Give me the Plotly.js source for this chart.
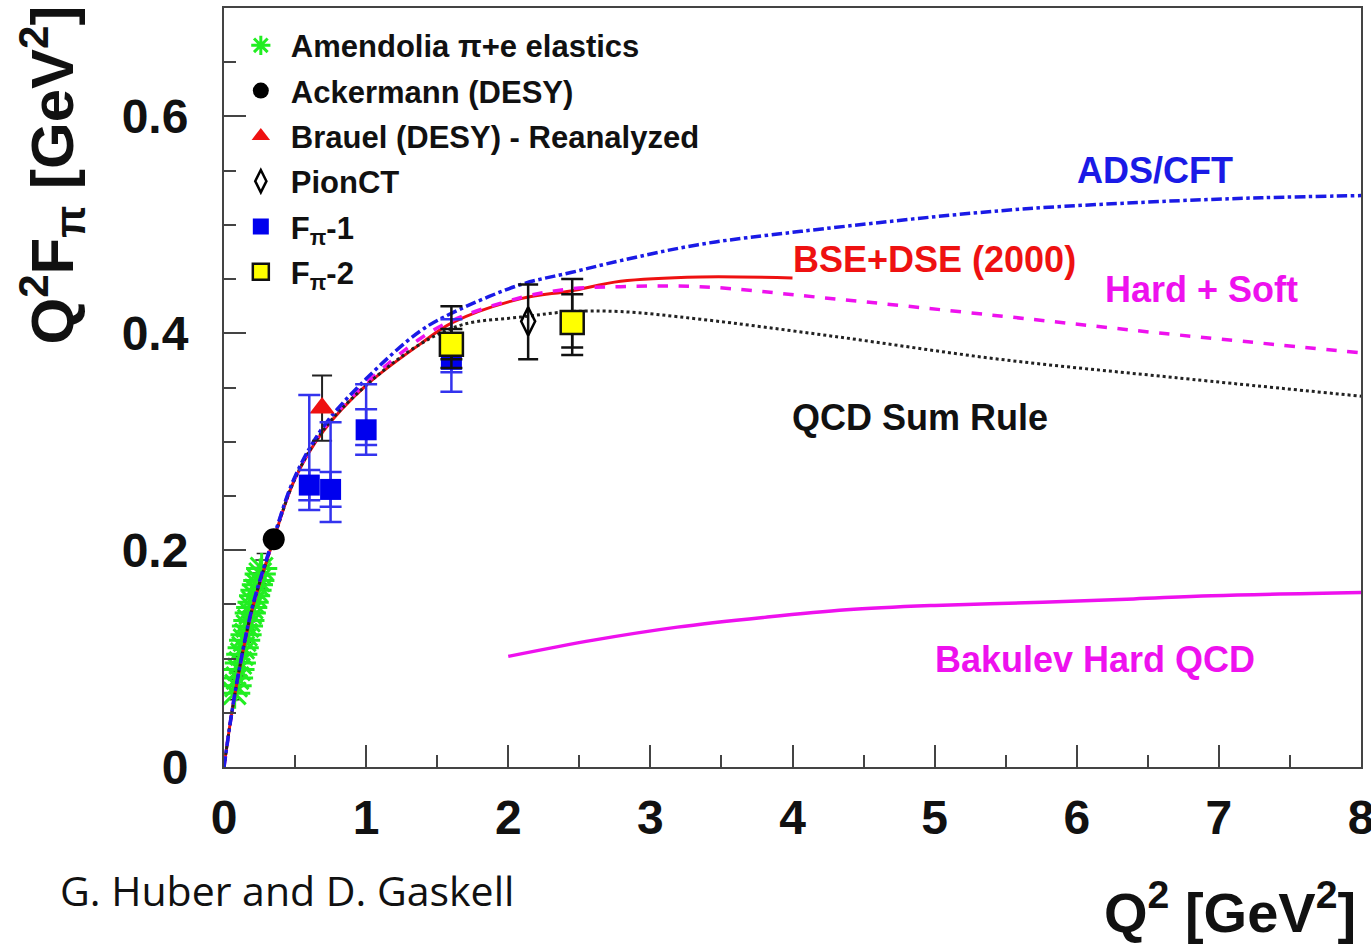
<!DOCTYPE html>
<html><head><meta charset="utf-8">
<script src="https://cdn.plot.ly/plotly-3.0.1.min.js"></script>
<style>html,body{margin:0;padding:0;background:#fff}</style>
</head><body><div id="chart" style="width:1371px;height:948px"></div>
<script>
// ---------- data ----------
var amendoliaQ2  = [0.075,0.085,0.095,0.105,0.115,0.125,0.135,0.145,0.155,0.165,0.175,0.185,0.195,0.205,0.215,0.225,0.235,0.245,0.255,0.265];
var amendoliaVal = [0.068,0.075,0.082,0.090,0.096,0.104,0.110,0.117,0.122,0.130,0.135,0.142,0.147,0.152,0.158,0.163,0.168,0.172,0.178,0.183];
var amendoliaErr = [0.006,0.006,0.006,0.006,0.006,0.007,0.007,0.007,0.007,0.008,0.008,0.008,0.009,0.009,0.010,0.010,0.011,0.012,0.013,0.014];

var ackermannQ2 = [0.35];
var ackermannVal = [0.210];

var brauelQ2 = [0.69];
var brauelVal = [0.331];
var brauelErr = [0.030];

var pionctQ2 = [2.14];
var pionctVal = [0.411];
var pionctErrPlus = [0.034];
var pionctErrMinus = [0.035];

var fpi1Q2 = [0.60, 0.75, 1.00, 1.60];
var fpi1Val = [0.260, 0.256, 0.311, 0.376];
var fpi1ErrPlus = [0.083, 0.062, 0.042, 0.037];
var fpi1ErrMinus = [0.023, 0.030, 0.023, 0.030];
var fpi1StatPlus = [0.014, 0.016, 0.019, 0.012];
var fpi1StatMinus = [0.014, 0.016, 0.014, 0.012];

var fpi2Q2 = [1.60, 2.45];
var fpi2Val = [0.390, 0.410];
var fpi2ErrPlus = [0.035, 0.040];
var fpi2ErrMinus = [0.022, 0.030];
var fpi2StatPlus = [0.014, 0.026];
var fpi2StatMinus = [0.014, 0.023];

// model curves
var adsQ2  = [0, 0.05, 0.1, 0.2, 0.35, 0.5, 0.7, 1.0, 1.38, 1.61, 2.09, 2.44, 2.79, 3.35, 4.06, 5.46, 6.5, 7.3, 8.0];
var adsVal = [0, 0.046, 0.085, 0.148, 0.212, 0.268, 0.314, 0.358, 0.402, 0.419, 0.445, 0.456, 0.467, 0.482, 0.494, 0.513, 0.521, 0.525, 0.527];

var bseQ2  = [0, 0.05, 0.1, 0.2, 0.35, 0.5, 0.7, 1.0, 1.38, 1.61, 2.09, 2.44, 2.79, 3.35, 4.0];
var bseVal = [0, 0.046, 0.084, 0.146, 0.210, 0.266, 0.310, 0.352, 0.390, 0.410, 0.432, 0.439, 0.448, 0.452, 0.451];

var hsQ2  = [0, 0.05, 0.1, 0.2, 0.35, 0.5, 0.7, 1.0, 1.38, 1.61, 2.09, 2.44, 2.79, 3.35, 4.2, 5.46, 6.6, 8.0];
var hsVal = [0, 0.046, 0.085, 0.147, 0.211, 0.267, 0.312, 0.354, 0.395, 0.412, 0.433, 0.441, 0.443, 0.443, 0.433, 0.416, 0.400, 0.382];

var qcdQ2  = [0, 0.05, 0.1, 0.2, 0.35, 0.5, 0.7, 1.0, 1.38, 1.68, 2.09, 2.44, 2.79, 3.35, 4.3, 5.46, 6.7, 8.0];
var qcdVal = [0, 0.046, 0.085, 0.147, 0.210, 0.266, 0.311, 0.352, 0.390, 0.408, 0.415, 0.420, 0.420, 0.413, 0.397, 0.376, 0.359, 0.342];

var bakQ2  = [2.0, 2.6, 3.19, 3.8, 4.38, 5.0, 5.76, 6.4, 6.95, 8.0];
var bakVal = [0.102, 0.117, 0.129, 0.138, 0.145, 0.149, 0.152, 0.155, 0.158, 0.161];

var legendNames = ['Amendolia \u03c0+e elastics', 'Ackermann (DESY)', 'Brauel (DESY) - Reanalyzed', 'PionCT', 'F<sub>\u03c0</sub>-1', 'F<sub>\u03c0</sub>-2'];
var curveLabels = ['ADS/CFT', 'BSE+DSE (2000)', 'Hard + Soft', 'QCD Sum Rule', 'Bakulev Hard QCD'];
var yTicks = [0, 0.2, 0.4, 0.6];
var yTickText = ['0', '0.2', '0.4', '0.6'];
var xTicks = [0, 1, 2, 3, 4, 5, 6, 7, 8];
var xTickText = ['0', '1', '2', '3', '4', '5', '6', '7', '8'];

// ---------- styling ----------
var FONT = 'Liberation Sans, Arial, Helvetica, sans-serif';
var BLUE = '#1a1ae6', RED = '#ee1111', MAG = '#ee11ee', GREEN = '#22ee22';

var traces = [];
traces.push({x: amendoliaQ2, y: amendoliaVal, type: 'scatter', mode: 'markers', name: legendNames[0],
  legendgroup: 'a', legendrank: 1,
  marker: {symbol: 'asterisk-open', size: 26, color: GREEN, line: {color: GREEN, width: 3}},
  error_y: {type: 'data', array: amendoliaErr, color: '#222', thickness: 1.5, width: 5}});
traces.push({x: bseQ2, y: bseVal, mode: 'lines', showlegend: false, line: {color: RED, width: 3, shape: 'spline', smoothing: 1}});
traces.push({x: hsQ2, y: hsVal, mode: 'lines', showlegend: false, line: {color: MAG, width: 3.5, dash: 'dash', shape: 'spline', smoothing: 1}});
traces.push({x: qcdQ2, y: qcdVal, mode: 'lines', showlegend: false, line: {color: '#222', width: 3, dash: 'dot', shape: 'spline', smoothing: 1}});
traces.push({x: adsQ2, y: adsVal, mode: 'lines', showlegend: false, line: {color: BLUE, width: 3.5, dash: 'dashdot', shape: 'spline', smoothing: 1}});
traces.push({x: bakQ2, y: bakVal, mode: 'lines', showlegend: false, line: {color: MAG, width: 3.5, shape: 'spline', smoothing: 1}});

traces.push({x: ackermannQ2, y: ackermannVal, mode: 'markers', name: legendNames[1], legendgroup: 'b', legendrank: 2,
  marker: {symbol: 'circle', size: 22, color: '#000'}});
traces.push({x: brauelQ2, y: brauelVal, mode: 'markers', name: legendNames[2], legendgroup: 'c', legendrank: 3,
  marker: {symbol: 'triangle-up', size: 22, color: RED},
  error_y: {type: 'data', array: brauelErr, color: '#222', thickness: 2, width: 10}});
// Fpi-1 stat (inner) bars
traces.push({x: fpi1Q2, y: fpi1Val, mode: 'markers', showlegend: false, hoverinfo: 'skip',
  marker: {size: 1, color: 'rgba(0,0,0,0)'},
  error_y: {type: 'data', symmetric: false, array: fpi1StatPlus, arrayminus: fpi1StatMinus, color: '#3333ee', thickness: 2.5, width: 11}});
traces.push({x: fpi1Q2, y: fpi1Val, mode: 'markers', name: legendNames[4], legendgroup: 'e', legendrank: 5,
  marker: {symbol: 'square', size: 21, color: '#0000ee'},
  error_y: {type: 'data', symmetric: false, array: fpi1ErrPlus, arrayminus: fpi1ErrMinus, color: '#3333ee', thickness: 2.5, width: 11}});
traces.push({x: pionctQ2, y: pionctVal, mode: 'markers', name: legendNames[3], legendgroup: 'd', legendrank: 4,
  marker: {symbol: 'diamond-tall-open', size: 20, color: '#000', line: {color: '#000', width: 2.5}},
  error_y: {type: 'data', symmetric: false, array: pionctErrPlus, arrayminus: pionctErrMinus, color: '#111', thickness: 2.5, width: 10}});
traces.push({x: fpi2Q2, y: fpi2Val, mode: 'markers', showlegend: false, hoverinfo: 'skip',
  marker: {size: 1, color: 'rgba(0,0,0,0)'},
  error_y: {type: 'data', symmetric: false, array: fpi2StatPlus, arrayminus: fpi2StatMinus, color: '#111', thickness: 2.5, width: 11}});
traces.push({x: fpi2Q2, y: fpi2Val, mode: 'markers', name: legendNames[5], legendgroup: 'f', legendrank: 6,
  marker: {symbol: 'square', size: 23, color: '#ffff00', line: {color: '#111', width: 2.5}},
  error_y: {type: 'data', symmetric: false, array: fpi2ErrPlus, arrayminus: fpi2ErrMinus, color: '#111', thickness: 2.5, width: 11}});

function lab(text, x, y, color) {
  return {text: text, x: x, y: y, xref: 'x', yref: 'y', showarrow: false, xanchor: 'center', yanchor: 'middle',
    font: {family: FONT, size: 36, color: color, weight: 700}};
}
// plot area in pixels: left 224, right 1361, top 8, bottom 767
function px(xp) { return (xp - 224) / 1137; }
function py(yp) { return (767 - yp) / 759; }

var annotations = [
  lab(curveLabels[0], 6.55, 0.55, BLUE),
  lab(curveLabels[1], 5.0, 0.468, RED),
  lab(curveLabels[2], 6.88, 0.44, MAG),
  lab(curveLabels[3], 4.9, 0.322, '#111'),
  lab(curveLabels[4], 6.13, 0.099, MAG),
  {text: 'Q<sup>2</sup>F<sub>\u03c0</sub> [GeV<sup>2</sup>]', xref: 'paper', yref: 'paper', x: px(52), y: py(4),
   xanchor: 'center', yanchor: 'top', textangle: -90, showarrow: false,
   font: {family: FONT, size: 60, color: '#111', weight: 700}},
  {text: 'Q<sup>2</sup> [GeV<sup>2</sup>]', xref: 'paper', yref: 'paper', x: px(1358), y: py(908),
   xanchor: 'right', yanchor: 'middle', showarrow: false,
   font: {family: FONT, size: 56, color: '#111', weight: 700}},
  {text: 'G. Huber and D. Gaskell', xref: 'paper', yref: 'paper', x: px(58), y: py(890),
   xanchor: 'left', yanchor: 'middle', showarrow: false,
   font: {family: 'Open Sans, Noto Sans, sans-serif', size: 41, color: '#111'}}
];

var axisCommon = {
  showline: true, linecolor: '#444', linewidth: 2, mirror: true,
  ticks: 'inside', tickcolor: '#444', tickwidth: 2, ticklen: 22,
  showgrid: false, zeroline: false, tickmode: 'array', ticklabeloverflow: 'allow',
  tickfont: {family: FONT, size: 48, color: '#111', weight: 700}
};

var layout = {
  width: 1371, height: 948,
  margin: {l: 224, r: 10, t: 8, b: 181},
  paper_bgcolor: '#fff', plot_bgcolor: '#fff',
  showlegend: true,
  legend: {x: 0.006, y: 0.986, xanchor: 'left', yanchor: 'top', bgcolor: 'rgba(0,0,0,0)',
    font: {family: FONT, size: 31, color: '#111', weight: 700}, tracegroupgap: 2, itemwidth: 50},
  xaxis: Object.assign({}, axisCommon, {range: [0, 8], tickvals: xTicks, ticktext: xTickText, ticklabelstandoff: 7,
    minor: {dtick: 0.5, ticks: 'inside', ticklen: 12, tickcolor: '#444', tickwidth: 2}}),
  yaxis: Object.assign({}, axisCommon, {range: [0, 0.7], tickvals: yTicks, ticktext: yTickText, ticklabelstandoff: 24,
    minor: {dtick: 0.05, ticks: 'inside', ticklen: 12, tickcolor: '#444', tickwidth: 2}}),
  annotations: annotations
};

Plotly.newPlot('chart', traces, layout, {staticPlot: true, displayModeBar: false});
</script></body></html>
